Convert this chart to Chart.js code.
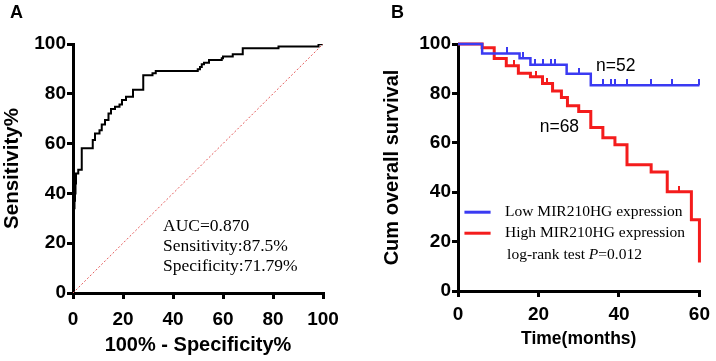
<!DOCTYPE html>
<html>
<head>
<meta charset="utf-8">
<script src="https://cdn.jsdelivr.net/npm/chart.js@4.4.0/dist/chart.umd.min.js"></script>
<style>
  body { margin: 0; background: #fff; }
  #wrap { position: relative; width: 716px; height: 361px; background: #fff; overflow: hidden; }
  .panel { position: absolute; top: 0; }
  .tag { position: absolute; font: bold 18px "Liberation Sans", Arial, sans-serif; line-height: 1; }
</style>
</head>
<body>
<div id="wrap">
  <canvas id="rocChart" class="panel" width="358" height="361" style="left:0"></canvas>
  <canvas id="kmChart" class="panel" width="358" height="361" style="left:358px"></canvas>
  <div class="tag" style="left:10px;top:3px">A</div>
  <div class="tag" style="left:391px;top:3px">B</div>
</div>
<script>
// --- Panel A: ROC curve ---
const rocFpr  = [0, 0, 0.4, 0.6, 0.8, 1.0, 1.2, 2.1, 3.5, 7.9, 8.8, 10.6, 11.5, 12.8, 14.2, 15.2, 16.8, 18.6, 19.6, 21.2, 24.0, 28.1, 31.8, 33.1, 49.9, 50.8, 51.5, 52.4, 54.4, 59.5, 60.0, 63.9, 67.9, 82.2, 98.2, 100];
const rocSens = [0, 32, 34, 37, 40, 44, 48, 49.5, 58.1, 61.4, 64.1, 65.4, 67.7, 69.5, 72.1, 73.9, 74.8, 75.7, 77.5, 78.8, 81.6, 87.4, 88.3, 89.2, 89.9, 90.8, 91.9, 92.5, 93.6, 94.3, 95.0, 95.9, 98.3, 99.0, 99.9, 100];
const refX = [0, 100];
const refY = [0, 100];
const rocNotes = ['AUC=0.870', 'Sensitivity:87.5%', 'Specificity:71.79%'];

// --- Panel B: Kaplan-Meier ---
const lowTime  = [0, 6, 15.3, 18, 27, 33, 60];
const lowSurv  = [100, 96.2, 94.2, 91.6, 88.0, 83.3, 83.3];
const lowCensor = [12.1, 16.1, 19.1, 21.2, 23.2, 24.0, 30.1, 36.0, 38.1, 39.1, 42.1, 48.0, 53.1, 60];
const highTime = [0, 6, 9, 12, 15, 18, 21, 23.5, 25.7, 27.2, 30, 33, 36, 39, 42, 48, 52, 58, 60];
const highSurv = [100, 98.5, 94.1, 91.2, 88.2, 86.7, 84.0, 81.0, 78.3, 75.0, 72.7, 66.2, 62.0, 59.2, 51.1, 48.2, 40.2, 28.8, 11.5];
const highCensor = [14.0, 19.5, 22.0, 55.0];
const groupNames = ['Low MIR210HG expression', 'High MIR210HG expression'];
const groupN = ['n=52', 'n=68'];
const pValue = '0.012';

const BLUE = '#3a3af2';
const RED = '#f41c1c';
const tickFont = { family: '"Liberation Sans", Arial, sans-serif', size: 19, weight: 'bold' };

function pts(xs, ys) {
    return xs.map((x, i) => ({ x: x, y: ys[i] }));
}

// survival level at time t (step function lookup)
function survAt(times, surv, t) {
    let s = surv[0];
    for (let i = 0; i < times.length; i++) {
        if (times[i] <= t) s = surv[i];
    }
    return s;
}

function censorMark(color) {
    const c = document.createElement('canvas');
    c.width = 2;
    c.height = 12;
    const g = c.getContext('2d');
    g.fillStyle = color;
    g.fillRect(0, 0, 2, 6);
    return c;
}

function axis(min, max, step, title, titleSize, titlePad, tickPad, fit) {
    return {
        type: 'linear',
        min: min,
        max: max,
        ticks: { stepSize: step, color: '#000', font: tickFont, padding: tickPad },
        grid: { drawOnChartArea: false, tickLength: 6, lineWidth: 3, tickWidth: 3, color: '#000' },
        border: { display: true, color: '#000', width: 3 },
        title: {
            display: true,
            text: title,
            color: '#000',
            font: { family: '"Liberation Sans", Arial, sans-serif', size: titleSize, weight: 'bold' },
            padding: titlePad
        },
        afterFit: fit
    };
}

const rocTextPlugin = {
    id: 'rocText',
    afterDatasetsDraw(chart) {
        const { ctx, scales: { x, y } } = chart;
        ctx.save();
        ctx.font = '17.5px "Liberation Serif", "Times New Roman", serif';
        ctx.fillStyle = '#000';
        ctx.textBaseline = 'alphabetic';
        const left = x.getPixelForValue(36);
        const base = y.getPixelForValue(25);
        rocNotes.forEach((t, i) => ctx.fillText(t, left, base + i * 20));
        ctx.restore();
    }
};

const kmTextPlugin = {
    id: 'kmText',
    afterDatasetsDraw(chart) {
        const { ctx, scales: { x, y } } = chart;
        ctx.save();
        ctx.fillStyle = '#000';
        ctx.textBaseline = 'middle';
        ctx.font = '17.5px "Liberation Sans", Arial, sans-serif';
        ctx.fillText(groupN[0], x.getPixelForValue(34.3), y.getPixelForValue(91.2));
        ctx.fillText(groupN[1], x.getPixelForValue(20.3), y.getPixelForValue(66.3));

        // legend
        const lx0 = x.getPixelForValue(1.6);
        const lx1 = x.getPixelForValue(8.1);
        const tx = x.getPixelForValue(11.7);
        const ly = y.getPixelForValue(31.9);
        const colors = [BLUE, RED];
        ctx.font = '15.5px "Liberation Serif", "Times New Roman", serif';
        colors.forEach((c, i) => {
            const yy = ly + i * 21;
            ctx.strokeStyle = c;
            ctx.lineWidth = 3;
            ctx.beginPath();
            ctx.moveTo(lx0, yy);
            ctx.lineTo(lx1, yy);
            ctx.stroke();
            ctx.fillText(groupNames[i], tx, yy);
        });
        let px = tx + 2;
        const py = ly + 43;
        const part1 = 'log-rank test ';
        ctx.fillText(part1, px, py);
        px += ctx.measureText(part1).width;
        ctx.font = 'italic 15.5px "Liberation Serif", "Times New Roman", serif';
        ctx.fillText('P', px, py);
        px += ctx.measureText('P').width;
        ctx.font = '15.5px "Liberation Serif", "Times New Roman", serif';
        ctx.fillText('=' + pValue, px, py);
        ctx.restore();
    }
};

new Chart(document.getElementById('rocChart'), {
    type: 'scatter',
    data: {
        datasets: [
            {
                data: pts(refX, refY),
                showLine: true,
                borderColor: '#e35a5a',
                borderWidth: 1,
                borderDash: [2, 2],
                pointRadius: 0
            },
            {
                data: pts(rocFpr, rocSens),
                showLine: true,
                stepped: true,
                borderColor: '#000',
                borderWidth: 2,
                pointRadius: 0
            }
        ]
    },
    options: {
        responsive: false,
        animation: false,
        layout: { padding: { left: 0, top: 44, right: 35, bottom: 0 } },
        plugins: { legend: { display: false }, tooltip: { enabled: false } },
        scales: {
            x: axis(0, 100, 20, '100% - Specificity%', 20, { top: 0, bottom: 4 }, 9, s => { s.height = 68; }),
            y: axis(0, 100, 20, 'Sensitivity%', 20.5, { top: 0, bottom: 0 }, 1, s => { s.width = 73; })
        }
    },
    plugins: [rocTextPlugin]
});

new Chart(document.getElementById('kmChart'), {
    type: 'scatter',
    data: {
        datasets: [
            {
                data: pts(lowTime, lowSurv),
                showLine: true,
                stepped: true,
                borderColor: BLUE,
                borderWidth: 2.5,
                pointRadius: 0
            },
            {
                data: pts(highTime, highSurv),
                showLine: true,
                stepped: true,
                borderColor: RED,
                borderWidth: 3,
                pointRadius: 0
            },
            {
                data: lowCensor.map(t => ({ x: t, y: survAt(lowTime, lowSurv, t) })),
                pointStyle: censorMark(BLUE),
                pointRadius: 3
            },
            {
                data: highCensor.map(t => ({ x: t, y: survAt(highTime, highSurv, t) })),
                pointStyle: censorMark(RED),
                pointRadius: 3
            }
        ]
    },
    options: {
        responsive: false,
        animation: false,
        clip: false,
        layout: { padding: { left: 0, top: 44, right: 12, bottom: 0 } },
        plugins: { legend: { display: false }, tooltip: { enabled: false } },
        scales: {
            x: axis(0, 60, 20, 'Time(months)', 17.5, { top: 0, bottom: 11 }, 6, s => { s.height = 70; }),
            y: axis(0, 100, 20, 'Cum overall survival', 20, { top: 22, bottom: 0 }, 1, s => { s.width = 100; })
        }
    },
    plugins: [kmTextPlugin]
});
</script>
</body>
</html>
